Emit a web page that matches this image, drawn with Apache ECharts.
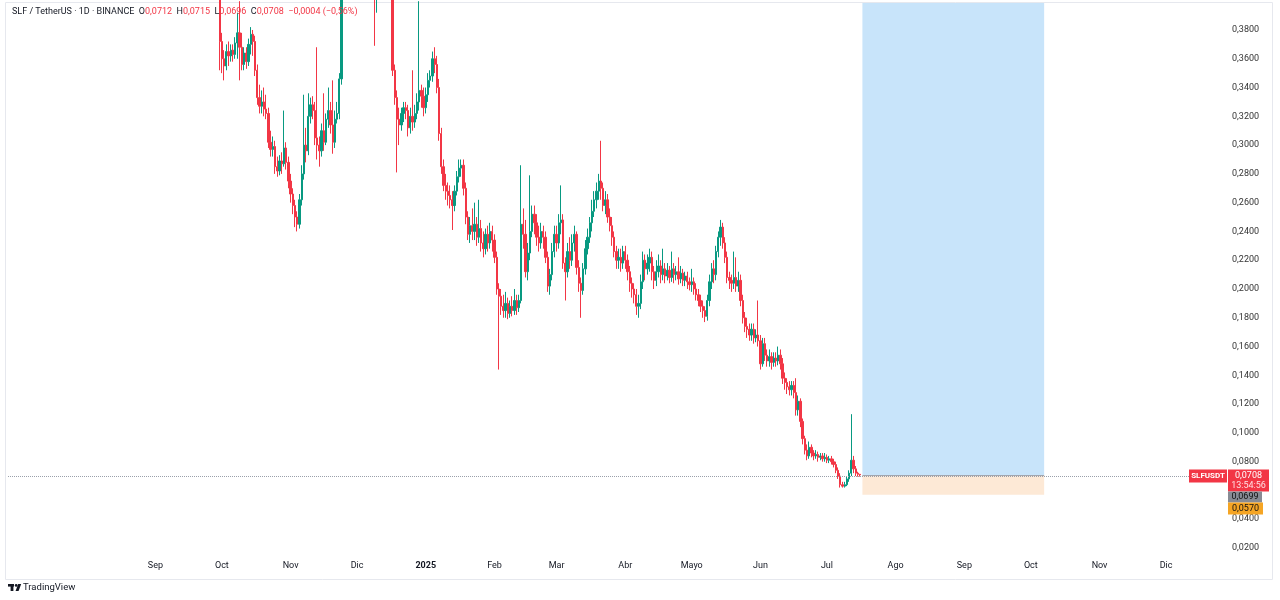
<!DOCTYPE html>
<html><head><meta charset="utf-8">
<script src="https://cdn.jsdelivr.net/npm/echarts@6/dist/echarts.min.js"></script>
<style>html,body{margin:0;padding:0;background:#fff}#c{width:1280px;height:600px}</style>
</head><body><div id="c"></div>
<script>
// Daily candles, each row = [open, close, low, high] in thousandths of USDT
const sep2024 = [[450,440,430,460],[440,425,415,448],[425,372,352,432]];
const oct2024 = [[372,360,350,378],[360,355,345,366],[355,365,352,370],[365,362,355,372],[362,366,358,370],[366,363,358,370],[363,371,360,375],[371,378,360,392],[378,368,345,400],[368,356,352,378],[356,364,352,368],[364,358,353,368],[358,370,355,374],[370,377,363,382],[377,372,362,380],[372,352,348,376],[352,333,328,356],[333,327,322,342],[327,330,322,338],[330,325,320,340],[325,322,318,335],[322,302,298,326],[302,297,292,310],[297,299,292,306],[299,285,280,303],[285,282,278,292],[282,289,279,293],[289,287,280,295],[287,298,285,324],[298,288,283,302],[288,275,270,292]];
const nov2024 = [[275,266,260,280],[266,258,252,270],[258,250,243,262],[250,245,240,254],[245,262,242,266],[262,280,258,286],[280,300,276,335],[300,296,288,312],[296,320,293,336],[320,328,315,333],[328,324,318,334],[324,305,300,330],[305,300,290,368],[300,296,285,306],[296,310,292,315],[310,302,296,336],[302,318,300,322],[318,324,312,340],[324,314,308,330],[314,302,294,345],[302,318,298,324],[318,322,315,330],[322,346,318,350],[346,420,342,430],[420,445,405,460],[445,465,430,480],[465,480,450,500],[480,470,450,495],[470,490,460,510],[490,500,475,520]];
const dec2024 = [[500,485,470,515],[485,470,450,495],[470,480,455,500],[480,475,455,495],[475,460,440,490],[460,470,445,485],[470,465,450,480],[465,450,430,475],[450,425,369,460],[425,432,392,445],[432,445,420,460],[445,440,425,455],[440,450,430,462],[450,445,432,460],[445,440,425,455],[440,420,405,448],[420,352,348,425],[352,333,328,356],[333,318,281,338],[318,314,300,326],[314,322,310,326],[322,326,316,330],[326,324,318,330],[324,312,306,328],[312,320,308,326],[320,316,310,352],[316,322,312,328],[322,330,318,336],[330,338,324,400],[338,334,326,342],[334,326,320,340]];
const jan2025 = [[326,335,322,340],[335,345,330,350],[345,348,340,352],[348,360,344,365],[360,356,350,368],[356,340,336,362],[340,308,303,346],[308,285,280,312],[285,272,268,290],[272,268,262,280],[268,265,258,274],[265,262,256,272],[262,258,241,268],[258,268,254,272],[268,278,265,282],[278,284,274,290],[284,286,278,290],[286,270,265,290],[270,250,245,274],[250,238,234,254],[238,244,232,250],[244,240,234,256],[240,245,234,260],[245,236,230,250],[236,242,232,262],[242,232,226,248],[232,228,222,240],[228,238,224,242],[238,232,226,244],[232,240,228,246],[240,234,226,244]];
const feb2025 = [[234,222,218,238],[222,200,196,226],[200,195,144,204],[195,188,182,200],[188,185,180,196],[185,190,180,198],[190,183,179,194],[183,188,180,192],[188,185,181,195],[185,192,182,200],[192,187,182,196],[187,192,184,196],[192,245,190,286],[245,238,228,256],[238,212,208,248],[212,225,206,232],[225,240,220,279],[240,252,236,258],[252,246,238,258],[246,236,230,252],[236,232,226,244],[232,240,228,246],[240,236,228,244],[236,222,218,240],[222,202,198,226],[202,210,196,214],[210,226,206,232],[226,238,222,244]];
const mar2025 = [[238,232,226,244],[232,246,228,252],[246,248,238,272],[248,218,214,252],[218,212,192,222],[212,226,208,232],[226,220,214,236],[220,232,216,238],[232,238,226,244],[238,215,210,240],[215,204,198,220],[204,199,180,208],[199,214,196,218],[214,228,210,234],[228,236,224,242],[236,246,232,250],[246,254,240,262],[254,262,250,268],[262,268,256,274],[268,275,262,280],[275,270,262,303],[270,258,254,274],[258,262,252,268],[262,250,246,266],[250,244,240,256],[244,236,230,250],[236,226,222,240],[226,220,214,230],[220,222,214,228],[222,218,212,228],[218,226,214,230]];
const apr2025 = [[226,220,214,230],[220,212,206,224],[212,204,198,216],[204,200,194,208],[200,196,190,204],[196,188,182,200],[188,190,180,196],[190,205,186,210],[205,220,200,226],[220,214,206,224],[214,218,210,224],[218,222,212,228],[222,212,206,226],[212,206,200,216],[206,212,202,220],[212,216,208,224],[216,210,204,220],[210,214,206,228],[214,209,204,218],[209,213,206,218],[213,208,204,216],[208,214,205,226],[214,210,204,218],[210,212,206,216],[212,207,203,222],[207,211,204,216],[211,206,202,214],[206,209,202,212],[209,205,200,212],[205,203,199,208]];
const may2025 = [[203,205,198,214],[205,200,196,208],[200,196,192,204],[196,192,188,200],[192,188,184,196],[188,185,180,192],[185,181,177,188],[181,192,178,196],[192,205,188,210],[205,214,200,218],[214,210,204,220],[210,226,206,230],[226,236,222,240],[236,243,230,248],[243,232,228,246],[232,222,218,236],[222,208,204,226],[208,206,200,212],[206,204,198,210],[204,208,200,226],[208,202,198,222],[202,206,198,212],[206,192,188,210],[192,180,176,196],[180,174,170,184],[174,172,166,180],[172,168,164,176],[168,172,164,176],[172,166,162,176],[166,168,163,172],[168,164,160,192]];
const jun2025 = [[164,148,144,168],[148,162,146,166],[162,154,150,166],[154,150,146,158],[150,153,146,158],[153,149,144,156],[149,152,146,156],[152,150,146,156],[150,154,147,160],[154,148,144,158],[148,138,134,152],[138,135,130,142],[135,132,127,138],[132,130,126,136],[130,133,126,136],[133,128,124,136],[128,116,112,138],[116,122,112,126],[122,108,104,124],[108,96,92,110],[96,88,85,98],[88,84,81,92],[84,90,82,94],[90,86,83,92],[86,84,81,88],[84,85,82,88],[85,83,80,87],[83,84,81,86],[84,82,80,86],[82,83,80,86]];
const jul2025 = [[83,81,79,85],[81,82,79,84],[82,80,78,84],[80,78,76,82],[78,74,72,80],[74,70,68,76],[70,64,62,72],[64,63,62,66],[63,64,62,66],[64,68,63,70],[68,72,66,74],[72,81,70,113],[81,75,72,84],[75,72,70,77],[72,71.2,69.6,73],[71.2,70.8,69.6,71.5]];
const blocks = [['2024-09-28',sep2024],['2024-10-01',oct2024],['2024-11-01',nov2024],['2024-12-01',dec2024],['2025-01-01',jan2025],['2025-02-01',feb2025],['2025-03-01',mar2025],['2025-04-01',apr2025],['2025-05-01',may2025],['2025-06-01',jun2025],['2025-07-01',jul2025]];

// Time axis
const axisStart = '2024-06-27';
const axisDays = 550;
const tickDates = ['2024-09-01','2024-10-01','2024-11-01','2024-12-01','2025-01-01','2025-02-01','2025-03-01','2025-04-01','2025-05-01','2025-06-01','2025-07-01','2025-08-01','2025-09-01','2025-10-01','2025-11-01','2025-12-01'];
const tickLabels = ['Sep','Oct','Nov','Dic','2025','Feb','Mar','Abr','Mayo','Jun','Jul','Ago','Sep','Oct','Nov','Dic'];

// Price axis
const yMin = 0.014444, yMax = 0.39875;
const yTicks = [0.02,0.04,0.08,0.10,0.12,0.14,0.16,0.18,0.20,0.22,0.24,0.26,0.28,0.30,0.32,0.34,0.36,0.38];

// Position tool + labels
const lastClose = 0.0708, prevLabel = 0.0699, stopPrice = 0.0570;
const boxStart = '2025-07-17', boxEnd = '2025-10-07';

function addDays(s, n){ const d = new Date(s + 'T00:00:00Z'); d.setUTCDate(d.getUTCDate() + n); return d.toISOString().slice(0,10); }
const categories = [];
for (let i = 0; i < axisDays; i++) categories.push(addDays(axisStart, i));
const candleData = categories.map(() => '-');
blocks.forEach(([start, rows]) => {
  const i0 = categories.indexOf(start);
  rows.forEach((r, k) => { candleData[i0 + k] = r.map(v => v / 1000); });
});

const FONT = 'Roboto, "Noto Sans", sans-serif';
const fmt = v => v.toFixed(4).replace('.', ',');
const UP = '#089981', DOWN = '#f23645';

const chart = echarts.init(document.getElementById('c'));
chart.setOption({
  animation: false,
  backgroundColor: '#ffffff',
  grid: { left: 8, right: 53, top: 3, bottom: 44, containLabel: false },
  xAxis: {
    type: 'category', data: categories, boundaryGap: true,
    axisLine: { show: false }, axisTick: { show: false }, splitLine: { show: false },
    axisLabel: {
      interval: (i, v) => tickDates.includes(v),
      formatter: v => { const t = tickLabels[tickDates.indexOf(v)]; return t === '2025' ? '{b|' + t + '}' : t; },
      color: '#131722', fontSize: 9, fontFamily: FONT, margin: 5,
      rich: { b: { fontWeight: 'bold', fontSize: 9, fontFamily: FONT, color: '#131722' } }
    }
  },
  yAxis: {
    type: 'value', position: 'right', min: yMin, max: yMax,
    axisLine: { show: false }, axisTick: { show: false }, splitLine: { show: false },
    axisLabel: { customValues: yTicks, formatter: fmt, color: '#333', fontSize: 9, fontFamily: FONT, margin: 5, align: 'left' }
  },
  series: [{
    type: 'candlestick', data: candleData, barWidth: 1.8, clip: true,
    itemStyle: { color: UP, color0: DOWN, borderColor: UP, borderColor0: DOWN, borderWidth: 1 },
    markArea: {
      silent: true,
      data: [
        [{ xAxis: boxStart, yAxis: lastClose, itemStyle: { color: '#c8e4fa' } }, { xAxis: boxEnd, yAxis: yMax }],
        [{ xAxis: boxStart, yAxis: stopPrice, itemStyle: { color: '#fde9d6' } }, { xAxis: boxEnd, yAxis: lastClose }]
      ]
    },
    markLine: {
      silent: true, symbol: 'none', label: { show: false },
      data: [
        { yAxis: lastClose, lineStyle: { type: 'dotted', color: '#9aa0aa', width: 1 } },
        [{ xAxis: boxStart, yAxis: lastClose, lineStyle: { type: 'solid', color: '#a3a6ae', width: 1 } }, { xAxis: boxEnd, yAxis: lastClose }]
      ]
    }
  }]
});

const py = chart.convertToPixel({ yAxisIndex: 0 }, lastClose);
const txt = (x, y, text, fill, extra) => ({ type: 'text', x, y, z: 20, style: Object.assign({ text, fill, fontSize: 9, fontFamily: FONT, align: 'center', verticalAlign: 'middle' }, extra || {}) });
chart.setOption({
  graphic: [
    { type: 'rect', z: 1, shape: { x: 5.5, y: 2.5, width: 1267, height: 577 }, style: { fill: 'none', stroke: '#e6e8ee', lineWidth: 1 } },
    { type: 'text', x: 12, y: 12, z: 20, style: {
      text: '{t|SLF / TetherUS · 1D · BINANCE}  {k|O}{v|0,0712}  {k|H}{v|0,0715}  {k|L}{v|0,0696}  {k|C}{v|0,0708}  {v|−0,0004 (−0,56%)}',
      verticalAlign: 'middle', fontFamily: FONT, fontSize: 9,
      rich: { t: { fill: '#131722', fontSize: 9, fontFamily: FONT }, k: { fill: '#131722', fontSize: 9, fontFamily: FONT }, v: { fill: '#f23645', fontSize: 9, fontFamily: FONT } }
    } },
    { type: 'rect', z: 19, shape: { x: 1189, y: py - 5.5, width: 38, height: 13 }, style: { fill: '#f23645' } },
    txt(1208, py + 1, 'SLFUSDT', '#fff', { fontSize: 8, fontWeight: 'bold' }),
    { type: 'rect', z: 19, shape: { x: 1228, y: py - 5.5, width: 41, height: 22 }, style: { fill: '#f23645' } },
    txt(1248.5, py + 0.5, fmt(lastClose), '#fff'),
    txt(1248.5, py + 11, '13:54:56', '#ffdfe2'),
    { type: 'rect', z: 19, shape: { x: 1228, y: py + 16.5, width: 34, height: 11 }, style: { fill: '#878b94' } },
    txt(1245, py + 22, fmt(prevLabel), '#111'),
    { type: 'rect', z: 19, shape: { x: 1228, y: py + 27.5, width: 35, height: 12 }, style: { fill: '#f5a524' } },
    txt(1245.5, py + 33.5, fmt(stopPrice), '#111'),
    // TradingView logo
    { type: 'rect', z: 20, shape: { x: 8, y: 584, width: 6, height: 2.6 }, style: { fill: '#131722' } },
    { type: 'rect', z: 20, shape: { x: 10.6, y: 584, width: 2.8, height: 7 }, style: { fill: '#131722' } },
    { type: 'circle', z: 20, shape: { cx: 16.2, cy: 585.4, r: 1.4 }, style: { fill: '#131722' } },
    { type: 'polygon', z: 20, shape: { points: [[18.2, 584], [21.2, 584], [18.6, 591], [15.6, 591]] }, style: { fill: '#131722' } },
    txt(23, 587.5, 'TradingView', '#131722', { align: 'left', fontSize: 9.5 })
  ]
});
</script>
</body></html>
